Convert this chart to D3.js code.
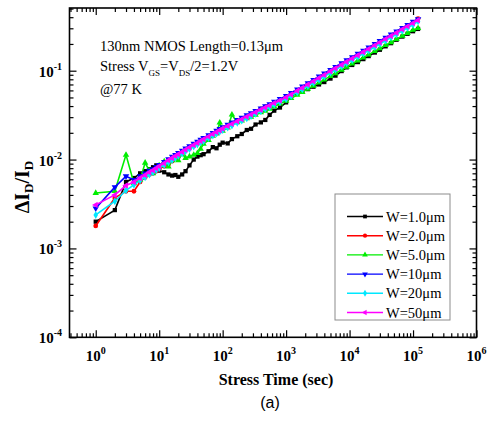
<!DOCTYPE html>
<html>
<head>
<meta charset="utf-8">
<script src="https://cdn.jsdelivr.net/npm/d3@7"></script>
<style>
  body { margin: 0; background: #fff; }
  text { font-family: "Liberation Serif", "Times New Roman", serif; fill: #000; }
</style>
</head>
<body>
<script>
// Stress time (sec), shared by all widths
var stressTime = [1, 2, 3, 4, 5, 6, 7, 8, 9, 10,
  12, 14, 16, 18, 20, 23, 26, 30, 35, 40,
  45, 50, 60, 70, 80, 90, 100, 120, 140, 170,
  200, 240, 280, 330, 400, 470, 550, 650, 800, 1000,
  1200, 1500, 1800, 2200, 2700, 3300, 4000, 5000, 6000, 7500,
  9000, 11000, 13500, 16500, 20000, 25000, 30000, 37000, 45000, 55000,
  68000, 82000, 100000, 120000];

// dId/Id for each width
var w1 = [0.0020, 0.0027, 0.0056, 0.0062, 0.0070, 0.0074, 0.0078, 0.0082, 0.0086, 0.0075,
  0.0072, 0.0068, 0.0066, 0.0067, 0.0064, 0.0068, 0.0074, 0.0086, 0.0100, 0.0108,
  0.0112, 0.0115, 0.0124, 0.0138, 0.0134, 0.0147, 0.0155, 0.0152, 0.0170, 0.0183,
  0.0194, 0.0215, 0.0222, 0.0248, 0.0262, 0.0279, 0.0318, 0.0355, 0.0385, 0.0440,
  0.0520, 0.0560, 0.0590, 0.0620, 0.0660, 0.0700, 0.0745, 0.0815, 0.0880, 0.0990,
  0.1090, 0.1160, 0.1250, 0.1350, 0.1460, 0.1600, 0.1720, 0.1880, 0.2040, 0.2230,
  0.2420, 0.2600, 0.2780, 0.2950];
var w2 = [0.00179, 0.0037, 0.0044, 0.0044, 0.0056, 0.0063, 0.0068, 0.0070, 0.0074, 0.0079,
  0.0084, 0.0088, 0.0096, 0.0104, 0.0110, 0.0118, 0.0127, 0.0134, 0.0143, 0.0151,
  0.0158, 0.0166, 0.0178, 0.0191, 0.0200, 0.0212, 0.0220, 0.0236, 0.0250, 0.0266,
  0.0283, 0.0300, 0.0318, 0.0340, 0.0372, 0.0392, 0.0400, 0.0428, 0.0458, 0.0497,
  0.0538, 0.0590, 0.0637, 0.0694, 0.0755, 0.0822, 0.0891, 0.0980, 0.1058, 0.1160,
  0.1255, 0.1365, 0.1488, 0.1618, 0.1755, 0.1925, 0.2078, 0.2272, 0.2465, 0.2685,
  0.2940, 0.3180, 0.3470, 0.3850];
var w5 = [0.0042, 0.0044, 0.0113, 0.0054, 0.0059, 0.0092, 0.0075, 0.0070, 0.0080, 0.0086,
  0.0095, 0.0083, 0.0098, 0.0105, 0.0098, 0.0116, 0.0104, 0.0108, 0.0113, 0.0118,
  0.0132, 0.0150, 0.0165, 0.0185, 0.0196, 0.0260, 0.0210, 0.0228, 0.0320, 0.0262,
  0.0275, 0.0290, 0.0303, 0.0318, 0.0340, 0.0352, 0.0372, 0.0395, 0.0425, 0.0458,
  0.0490, 0.0535, 0.0575, 0.0625, 0.0676, 0.0735, 0.0793, 0.0868, 0.0935, 0.1022,
  0.1105, 0.1198, 0.1300, 0.1405, 0.1518, 0.1657, 0.1780, 0.1935, 0.2088, 0.2260,
  0.2465, 0.2650, 0.2870, 0.3010];
var w10 = [0.00283, 0.0049, 0.0065, 0.0059, 0.0065, 0.0070, 0.0075, 0.0078, 0.0083, 0.0087,
  0.0094, 0.0101, 0.0108, 0.0113, 0.0119, 0.0126, 0.0134, 0.0142, 0.0151, 0.0159,
  0.0168, 0.0175, 0.0189, 0.0200, 0.0212, 0.0222, 0.0232, 0.0248, 0.0262, 0.0280,
  0.0296, 0.0316, 0.0333, 0.0353, 0.0378, 0.0400, 0.0422, 0.0449, 0.0482, 0.0521,
  0.0563, 0.0618, 0.0667, 0.0726, 0.0790, 0.0861, 0.0933, 0.1025, 0.1107, 0.1214,
  0.1312, 0.1426, 0.1553, 0.1687, 0.1828, 0.2005, 0.2163, 0.2361, 0.2558, 0.2780,
  0.3041, 0.3281, 0.3565, 0.3810];
var w20 = [0.00238, 0.0034, 0.0045, 0.0052, 0.0058, 0.0063, 0.0068, 0.0072, 0.0076, 0.0080,
  0.0087, 0.0093, 0.0099, 0.0105, 0.0110, 0.0117, 0.0124, 0.0131, 0.0140, 0.0148,
  0.0156, 0.0162, 0.0175, 0.0186, 0.0196, 0.0206, 0.0215, 0.0229, 0.0242, 0.0259,
  0.0274, 0.0292, 0.0308, 0.0327, 0.0350, 0.0370, 0.0390, 0.0415, 0.0445, 0.0481,
  0.0520, 0.0570, 0.0616, 0.0670, 0.0730, 0.0795, 0.0861, 0.0947, 0.1021, 0.1120,
  0.1211, 0.1316, 0.1433, 0.1557, 0.1688, 0.1851, 0.1997, 0.2179, 0.2362, 0.2566,
  0.2807, 0.3029, 0.3291, 0.3600];
var w50 = [0.00309, 0.0040, 0.0051, 0.0056, 0.0062, 0.0067, 0.0072, 0.0076, 0.0080, 0.0084,
  0.0091, 0.0098, 0.0104, 0.0110, 0.0115, 0.0122, 0.0129, 0.0137, 0.0146, 0.0154,
  0.0162, 0.0169, 0.0182, 0.0194, 0.0204, 0.0214, 0.0224, 0.0239, 0.0252, 0.0270,
  0.0285, 0.0304, 0.0321, 0.0340, 0.0364, 0.0385, 0.0406, 0.0432, 0.0463, 0.0501,
  0.0541, 0.0594, 0.0641, 0.0698, 0.0760, 0.0828, 0.0897, 0.0986, 0.1064, 0.1167,
  0.1262, 0.1371, 0.1493, 0.1622, 0.1758, 0.1928, 0.2080, 0.2270, 0.2460, 0.2673,
  0.2924, 0.3155, 0.3428, 0.3698];

var seriesNames = ["W=1.0\u03bcm", "W=2.0\u03bcm", "W=5.0\u03bcm", "W=10\u03bcm", "W=20\u03bcm", "W=50\u03bcm"];
var seriesValues = [w1, w2, w5, w10, w20, w50];
var seriesColors = ["#000000", "#ff0000", "#00ee00", "#0000ff", "#00e8ff", "#ff00ff"];
var xTickExps = [0, 1, 2, 3, 4, 5, 6];
var yTickExps = [-4, -3, -2, -1];

var width = 489, height = 421;
var plot = {left: 69.5, right: 476.5, top: 8, bottom: 337.3};

var svg = d3.select("body").append("svg")
    .attr("width", width)
    .attr("height", height);

var x = d3.scaleLog().domain([0.386, 1e6]).range([plot.left, plot.right]);
var y = d3.scaleLog().domain([1e-4, 0.5076]).range([plot.bottom, plot.top]);

var isMajor = function(v) {
    var l = Math.log10(v);
    return Math.abs(l - Math.round(l)) < 1e-6;
};

// symbols, Origin style
var symbols = [
    {type: d3.symbolSquare, rot: 0},
    {type: d3.symbolCircle, rot: 0},
    {type: d3.symbolTriangle, rot: 0},
    {type: d3.symbolTriangle, rot: 180},
    {type: d3.symbolDiamond, rot: 0},
    {type: d3.symbolTriangle, rot: -90}
];

// ****************** data ***************************
var line = d3.line()
    .x(function(d) { return x(d[0]); })
    .y(function(d) { return y(d[1]); });

seriesValues.forEach(function(vals, i) {
    var pts = stressTime.map(function(t, j) { return [t, vals[j]]; });
    var g = svg.append("g").attr("class", "series");
    g.append("path")
        .attr("d", line(pts))
        .attr("fill", "none")
        .attr("stroke", seriesColors[i])
        .attr("stroke-width", 1.6);
    g.selectAll("path.pt")
        .data(pts)
        .enter().append("path")
        .attr("class", "pt")
        .attr("d", d3.symbol().type(symbols[i].type).size(18))
        .attr("transform", function(d) {
            return "translate(" + x(d[0]) + "," + y(d[1]) + ") rotate(" + symbols[i].rot + ")";
        })
        .attr("fill", seriesColors[i]);
});

// ****************** axes ***************************
function styleAxis(g, horizontal, sign) {
    g.select(".domain").remove();
    g.selectAll(".tick line")
        .attr("stroke", "#000")
        .attr("stroke-width", 1.2)
        .attr(horizontal ? "y2" : "x2", function(d) { return sign * (isMajor(d) ? 7 : 4); });
    g.selectAll(".tick text").remove();
}

var xTicks = x.ticks();
var yTicks = y.ticks();

svg.append("g").attr("transform", "translate(0," + plot.bottom + ")")
    .call(d3.axisBottom(x).tickValues(xTicks).tickFormat(""))
    .call(styleAxis, true, -1);
svg.append("g").attr("transform", "translate(0," + plot.top + ")")
    .call(d3.axisTop(x).tickValues(xTicks).tickFormat(""))
    .call(styleAxis, true, 1);
svg.append("g").attr("transform", "translate(" + plot.left + ",0)")
    .call(d3.axisLeft(y).tickValues(yTicks).tickFormat(""))
    .call(styleAxis, false, 1);
svg.append("g").attr("transform", "translate(" + plot.right + ",0)")
    .call(d3.axisRight(y).tickValues(yTicks).tickFormat(""))
    .call(styleAxis, false, -1);

svg.append("rect")
    .attr("x", plot.left).attr("y", plot.top)
    .attr("width", plot.right - plot.left)
    .attr("height", plot.bottom - plot.top)
    .attr("fill", "none")
    .attr("stroke", "#000")
    .attr("stroke-width", 1.6);

// tick labels 10^n
xTickExps.forEach(function(e) {
    var t = svg.append("text")
        .attr("x", x(Math.pow(10, e)))
        .attr("y", 361)
        .attr("text-anchor", "middle")
        .style("font-size", "15px")
        .style("font-weight", "bold")
        .text("10");
    t.append("tspan").attr("dy", -7).style("font-size", "10px").text(e);
});

yTickExps.forEach(function(e) {
    var t = svg.append("text")
        .attr("x", 62)
        .attr("y", y(Math.pow(10, e)) + 6)
        .attr("text-anchor", "end")
        .style("font-size", "15px")
        .style("font-weight", "bold")
        .text("10");
    t.append("tspan").attr("dy", -7).style("font-size", "10px").text(e);
});

// axis titles
svg.append("text")
    .attr("x", 276).attr("y", 385)
    .attr("text-anchor", "middle")
    .style("font-size", "16px")
    .style("font-weight", "bold")
    .text("Stress Time (sec)");

svg.append("text")
    .attr("x", 270).attr("y", 408)
    .attr("text-anchor", "middle")
    .style("font-family", "'Liberation Sans', Arial, sans-serif")
    .style("font-size", "16px")
    .text("(a)");

var yt = svg.append("text")
    .attr("transform", "translate(29,187) rotate(-90)")
    .attr("text-anchor", "middle")
    .style("font-size", "20px")
    .style("font-weight", "bold");
yt.append("tspan").text("\u0394I");
yt.append("tspan").attr("dy", 4).style("font-size", "13px").text("D");
yt.append("tspan").attr("dy", -4).text("/I");
yt.append("tspan").attr("dy", 4).style("font-size", "13px").text("D");

// annotation
var note = svg.append("g").style("font-size", "14.5px");
note.append("text").attr("x", 100).attr("y", 51).text("130nm NMOS Length=0.13\u03bcm");
var l2 = note.append("text").attr("x", 100).attr("y", 71);
l2.append("tspan").text("Stress V");
l2.append("tspan").attr("dy", 5).style("font-size", "9px").text("GS");
l2.append("tspan").attr("dy", -5).text("=V");
l2.append("tspan").attr("dy", 5).style("font-size", "9px").text("DS");
l2.append("tspan").attr("dy", -5).text("/2=1.2V");
note.append("text").attr("x", 100).attr("y", 94).text("@77 K");

// ****************** legend ***************************
var legend = svg.append("g");
legend.append("rect")
    .attr("x", 335).attr("y", 194)
    .attr("width", 115).attr("height", 126)
    .attr("fill", "#fff")
    .attr("stroke", "#8c8c8c")
    .attr("stroke-width", 1);

var legendRow = d3.scaleLinear().domain([0, 5]).range([216.5, 312.5]);

seriesNames.forEach(function(name, i) {
    var ly = legendRow(i);
    legend.append("line")
        .attr("x1", 347).attr("x2", 383)
        .attr("y1", ly).attr("y2", ly)
        .attr("stroke", seriesColors[i])
        .attr("stroke-width", 1.4);
    legend.append("path")
        .attr("d", d3.symbol().type(symbols[i].type).size(14))
        .attr("transform", "translate(365," + ly + ") rotate(" + symbols[i].rot + ")")
        .attr("fill", seriesColors[i]);
    legend.append("text")
        .attr("x", 386).attr("y", ly + 5)
        .style("font-size", "14.5px")
        .text(name);
});
</script>
</body>
</html>
